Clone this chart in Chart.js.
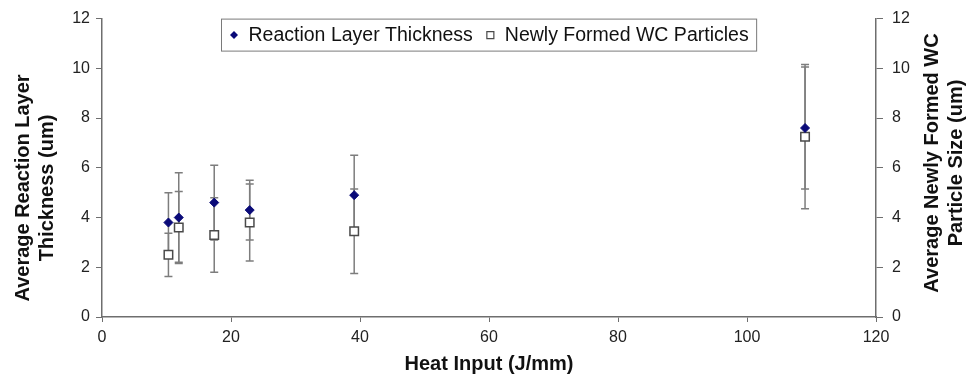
<!DOCTYPE html>
<html>
<head>
<meta charset="utf-8">
<script src="https://cdn.jsdelivr.net/npm/chart.js@4.4.1/dist/chart.umd.min.js"></script>
<style>
  body { margin: 0; background: #fff; }
  canvas { display: block; }
</style>
</head>
<body>
<canvas id="heatChart" width="969" height="381"></canvas>
<script>
// values
const heatInput = [10.3, 11.9, 17.4, 22.9, 39.1, 109.0];
const layerThickness = [3.8, 4.0, 4.6, 4.3, 4.9, 7.6];
const layerError = [1.2, 1.8, 1.5, 1.2, 1.6, 2.45];
const wcSize = [2.5, 3.6, 3.3, 3.8, 3.45, 7.25];
const wcError = [0.87, 1.45, 1.5, 1.55, 1.7, 2.9];
const xTicks = [0, 20, 40, 60, 80, 100, 120];
const yTicks = [0, 2, 4, 6, 8, 10, 12];

const leftTitle = ['Average Reaction Layer', 'Thickness (um)'];
const rightTitle = ['Average Newly Formed WC', 'Particle Size (um)'];

const tickFont = { family: 'Liberation Sans, Arial, sans-serif', size: 16 };
const axisColor = '#6e6e6e';

function toPoints(xs, ys) {
    return xs.map((x, i) => ({ x: x, y: ys[i] }));
}

// error bars drawn through the scales, behind the markers
const errorBars = {
    id: 'errorBars',
    beforeDatasetsDraw(chart) {
        const ctx = chart.ctx;
        const xs = chart.scales.x;
        ctx.save();
        ctx.strokeStyle = '#7d7d7d';
        ctx.lineWidth = 1.5;
        chart.data.datasets.forEach(ds => {
            const ys = chart.scales[ds.yAxisID];
            ds.data.forEach((p, j) => {
                const e = ds.errors[j];
                const px = xs.getPixelForValue(p.x);
                const top = ys.getPixelForValue(p.y + e);
                const bot = ys.getPixelForValue(p.y - e);
                ctx.beginPath();
                ctx.moveTo(px, top); ctx.lineTo(px, bot);
                ctx.moveTo(px - 4, top); ctx.lineTo(px + 4, top);
                ctx.moveTo(px - 4, bot); ctx.lineTo(px + 4, bot);
                ctx.stroke();
            });
        });
        ctx.restore();
    }
};

// legend box inside the plot and the two vertical axis titles
const decorations = {
    id: 'decorations',
    afterDraw(chart) {
        const ctx = chart.ctx;
        const area = chart.chartArea;
        ctx.save();

        // legend
        ctx.font = '19.5px Liberation Sans, Arial, sans-serif';
        ctx.textBaseline = 'middle';
        const items = chart.data.datasets.map(ds => ({ ds: ds, w: ctx.measureText(ds.label).width }));
        const markW = 9, gapIn = 10, gapOut = 13, pad = 8;
        let total = pad * 2;
        items.forEach((it, i) => { total += markW + gapIn + it.w + (i < items.length - 1 ? gapOut : 0); });
        const boxH = 32;
        const bx = Math.round((area.left + area.right) / 2 - total / 2) + 0.5;
        const by = area.top + 0.5;
        ctx.fillStyle = '#fff';
        ctx.fillRect(bx, by, total, boxH);
        ctx.strokeStyle = '#7a7a7a';
        ctx.lineWidth = 1;
        ctx.strokeRect(bx, by, total, boxH);
        let cx = bx + pad;
        const cy = by + boxH / 2;
        items.forEach(it => {
            const mx = cx + markW / 2;
            ctx.beginPath();
            if (it.ds.pointStyle === 'rectRot') {
                ctx.moveTo(mx, cy - 4); ctx.lineTo(mx + 4, cy);
                ctx.lineTo(mx, cy + 4); ctx.lineTo(mx - 4, cy);
                ctx.closePath();
                ctx.fillStyle = it.ds.backgroundColor;
                ctx.fill();
            } else {
                ctx.rect(mx - 3.5, cy - 3.5, 7, 7);
                ctx.fillStyle = '#fff';
                ctx.fill();
                ctx.strokeStyle = it.ds.borderColor;
                ctx.lineWidth = 1.2;
                ctx.stroke();
            }
            cx += markW + gapIn;
            ctx.fillStyle = '#111';
            ctx.textAlign = 'left';
            ctx.fillText(it.ds.label, cx, cy + 1);
            cx += it.w + gapOut;
        });

        // vertical axis titles, both reading bottom to top
        ctx.font = 'bold 20px Liberation Sans, Arial, sans-serif';
        ctx.fillStyle = '#111';
        ctx.textAlign = 'center';
        const drawTitle = (lines, x0, yc) => {
            lines.forEach((t, i) => {
                ctx.save();
                ctx.translate(x0 + i * 24, yc);
                ctx.rotate(-Math.PI / 2);
                ctx.fillText(t, 0, 0);
                ctx.restore();
            });
        };
        drawTitle(leftTitle, 23, 188);
        drawTitle(rightTitle, 932, 163);
        ctx.restore();
    }
};

const ctx = document.getElementById('heatChart').getContext('2d');
new Chart(ctx, {
    type: 'scatter',
    data: {
        datasets: [
            {
                label: 'Reaction Layer Thickness',
                data: toPoints(heatInput, layerThickness),
                errors: layerError,
                yAxisID: 'y',
                pointStyle: 'rectRot',
                pointRadius: 4.5,
                pointHoverRadius: 4.5,
                backgroundColor: '#0a0a78',
                borderColor: '#0a0a78',
                borderWidth: 1
            },
            {
                label: 'Newly Formed WC Particles',
                data: toPoints(heatInput, wcSize),
                errors: wcError,
                yAxisID: 'y2',
                pointStyle: 'rect',
                pointRadius: 6,
                pointHoverRadius: 6,
                backgroundColor: '#ffffff',
                borderColor: '#4a4a4a',
                borderWidth: 1.5
            }
        ]
    },
    options: {
        responsive: false,
        animation: false,
        devicePixelRatio: 1,
        layout: { padding: { top: 17, left: 0, right: 0, bottom: 0 } },
        plugins: {
            legend: { display: false },
            tooltip: { enabled: false }
        },
        scales: {
            x: {
                type: 'linear',
                min: 0,
                max: 120,
                afterBuildTicks: s => { s.ticks = xTicks.map(v => ({ value: v })); },
                afterFit: s => { s.height = 64; },
                grid: { drawOnChartArea: false, drawTicks: true, tickLength: 5, color: axisColor },
                border: { color: axisColor, width: 1.5 },
                ticks: { font: tickFont, color: '#222', padding: 6, maxRotation: 0 },
                title: {
                    display: true,
                    text: 'Heat Input (J/mm)',
                    color: '#111',
                    font: { family: 'Liberation Sans, Arial, sans-serif', size: 20, weight: 'bold' },
                    padding: { top: 0, bottom: 5 }
                }
            },
            y: {
                position: 'left',
                min: 0,
                max: 12,
                afterBuildTicks: s => { s.ticks = yTicks.map(v => ({ value: v })); },
                afterFit: s => { s.width = 102; },
                grid: { drawOnChartArea: false, drawTicks: true, tickLength: 6, color: axisColor },
                border: { color: axisColor, width: 1.5 },
                ticks: { font: tickFont, color: '#222', padding: 6 }
            },
            y2: {
                position: 'right',
                min: 0,
                max: 12,
                afterBuildTicks: s => { s.ticks = yTicks.map(v => ({ value: v })); },
                afterFit: s => { s.width = 93; },
                grid: { drawOnChartArea: false, drawTicks: true, tickLength: 7, color: axisColor },
                border: { color: axisColor, width: 1.5 },
                ticks: { font: tickFont, color: '#222', padding: 9 }
            }
        }
    },
    plugins: [errorBars, decorations]
});
</script>
</body>
</html>
